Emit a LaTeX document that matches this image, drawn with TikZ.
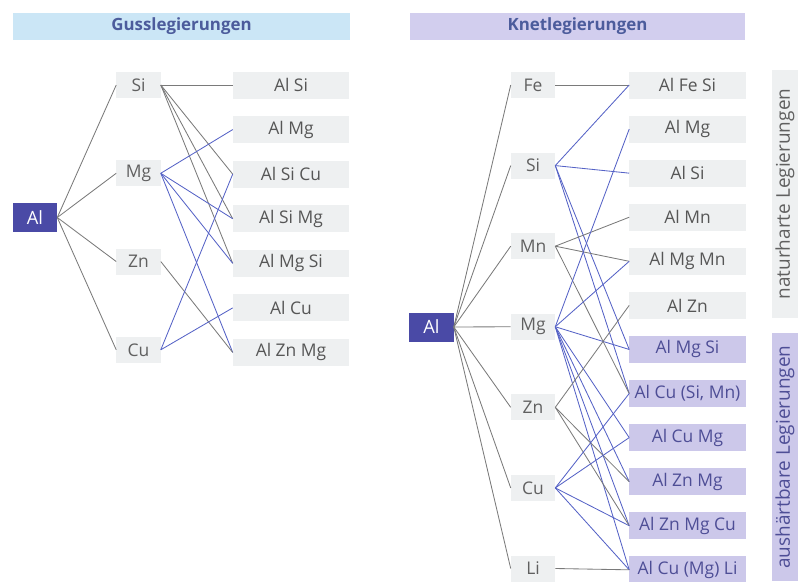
\documentclass[tikz,border=0pt]{standalone}
\usepackage{fontspec}
\setmainfont{Open Sans}
\usetikzlibrary{positioning}
\definecolor{alBlue}{HTML}{4A4AA6}
\definecolor{boxGrey}{HTML}{EEF0F1}
\definecolor{boxLila}{HTML}{CCC8EA}
\definecolor{headBlue}{HTML}{CBE6F6}
\definecolor{headLila}{HTML}{D2CEEE}
\definecolor{lineBlue}{HTML}{5562C6}
\definecolor{lineGrey}{HTML}{7A7A7A}
\definecolor{textGrey}{HTML}{606060}
\definecolor{textLila}{HTML}{4E4E96}
\definecolor{headText}{HTML}{4C5C9C}

\begin{document}
\begin{tikzpicture}[
    x=0.025cm, y=-0.025cm,
    node distance=0.4125cm,
    head/.style={rectangle, fill=headBlue, minimum width=8.425cm, minimum height=0.675cm,
                 font=\bfseries\fontsize{12}{14}\selectfont, text=headText, inner sep=0pt},
    almain/.style={rectangle, fill=alBlue, text=white, minimum width=1.1cm,
                 minimum height=0.725cm, inner sep=0pt, font=\fontsize{13}{15}\selectfont},
    elem/.style={rectangle, fill=boxGrey, text=textGrey, minimum width=1.1cm,
                 minimum height=0.65cm, inner sep=0pt, font=\fontsize{12.4}{14}\selectfont},
    alloy/.style={rectangle, fill=boxGrey, text=textGrey!90!black, minimum width=2.9cm,
                 minimum height=0.675cm, inner sep=0pt, font=\fontsize{12.4}{14}\selectfont},
    hard/.style={alloy, fill=boxLila, text=textLila},
    side/.style={rectangle, rotate=90, minimum width=6.2cm, minimum height=0.65cm,
                 inner sep=0pt, fill=boxGrey, text=textGrey, font=\fontsize{13.5}{15}\selectfont},
    greyline/.style={draw=lineGrey, line width=0.6pt},
    blueline/.style={draw=lineBlue, line width=0.6pt},
  ]
    \useasboundingbox (0,0) rectangle (798,581);

    % Gusslegierungen
    \node[head] (ghead) at (181.5,26.5) {Gusslegierungen};
    \node[almain] (gAl) at (35,217.5) {Al};

    \node[elem] (gSi) at (138.5,85) {Si};
    \node[elem, below=1.542cm of gSi] (gMg) {Mg};
    \node[elem, below=1.542cm of gMg] (gZn) {Zn};
    \node[elem, below=1.542cm of gZn] (gCu) {Cu};

    \node[alloy] (ga1) at (291,85) {Al Si};
    \node[alloy, below=0.425cm of ga1] (ga2) {Al Mg};
    \node[alloy, below=0.425cm of ga2] (ga3) {Al Si Cu};
    \node[alloy, below=0.425cm of ga3] (ga4) {Al Si Mg};
    \node[alloy, below=0.425cm of ga4] (ga5) {Al Mg Si};
    \node[alloy, below=0.425cm of ga5] (ga6) {Al Cu};
    \node[alloy, below=0.425cm of ga6] (ga7) {Al Zn Mg};

    \draw[greyline] (gAl.east) -- (gSi.west);
    \draw[greyline] (gAl.east) -- (gMg.west);
    \draw[greyline] (gAl.east) -- (gZn.west);
    \draw[greyline] (gAl.east) -- (gCu.west);

    \draw[greyline] (gSi.east) -- (ga1.west);
    \draw[greyline] (gSi.east) -- (ga3.west);
    \draw[greyline] (gSi.east) -- (ga4.west);
    \draw[greyline] (gSi.east) -- (ga5.west);
    \draw[blueline] (gMg.east) -- (ga2.west);
    \draw[blueline] (gMg.east) -- (ga4.west);
    \draw[blueline] (gMg.east) -- (ga5.west);
    \draw[blueline] (gMg.east) -- (ga7.west);
    \draw[greyline] (gZn.east) -- (ga7.west);
    \draw[blueline] (gCu.east) -- (ga3.west);
    \draw[blueline] (gCu.east) -- (ga6.west);

    % Knetlegierungen
    \node[head, fill=headLila, minimum width=8.375cm] (khead) at (577.5,26.5) {Knetlegierungen};
    \node[almain] (kAl) at (431.5,327) {Al};

    \node[elem] (kFe) at (533,85) {Fe};
    \node[elem, below=1.35cm of kFe] (kSi) {Si};
    \node[elem, below=1.35cm of kSi] (kMn) {Mn};
    \node[elem, below=1.35cm of kMn] (kMg) {Mg};
    \node[elem, below=1.35cm of kMg] (kZn) {Zn};
    \node[elem, below=1.35cm of kZn] (kCu) {Cu};
    \node[elem, below=1.35cm of kCu] (kLi) {Li};

    \node[alloy] (ka1) at (687.5,85) {Al Fe Si};
    \node[alloy, below=of ka1] (ka2) {Al Mg};
    \node[alloy, below=of ka2] (ka3) {Al Si};
    \node[alloy, below=of ka3] (ka4) {Al Mn};
    \node[alloy, below=of ka4] (ka5) {Al Mg Mn};
    \node[alloy, below=of ka5] (ka6) {Al Zn};
    \node[hard, below=of ka6] (ka7) {Al Mg Si};
    \node[hard, below=of ka7] (ka8) {Al Cu (Si, Mn)};
    \node[hard, below=of ka8] (ka9) {Al Cu Mg};
    \node[hard, below=of ka9] (ka10) {Al Zn Mg};
    \node[hard, below=of ka10] (ka11) {Al Zn Mg Cu};
    \node[hard, below=of ka11] (ka12) {Al Cu (Mg) Li};

    \node[side] (natur) at (785,194) {naturharte Legierungen};
    \node[side, fill=boxLila, text=textLila] (aushaert) at (785,457) {aushärtbare Legierungen};

    \draw[greyline] (kAl.east) -- (kFe.west);
    \draw[greyline] (kAl.east) -- (kSi.west);
    \draw[greyline] (kAl.east) -- (kMn.west);
    \draw[greyline] (kAl.east) -- (kMg.west);
    \draw[greyline] (kAl.east) -- (kZn.west);
    \draw[greyline] (kAl.east) -- (kCu.west);
    \draw[greyline] (kAl.east) -- (kLi.west);

    \draw[greyline] (kFe.east) -- (ka1.west);
    \draw[blueline] (kSi.east) -- (ka1.west);
    \draw[blueline] (kSi.east) -- (ka3.west);
    \draw[blueline] (kSi.east) -- (ka7.west);
    \draw[blueline] (kSi.east) -- (ka8.west);
    \draw[greyline] (kMn.east) -- (ka4.west);
    \draw[greyline] (kMn.east) -- (ka5.west);
    \draw[greyline] (kMn.east) -- (ka8.west);
    \draw[blueline] (kMg.east) -- (ka2.west);
    \draw[blueline] (kMg.east) -- (ka5.west);
    \draw[blueline] (kMg.east) -- (ka7.west);
    \draw[blueline] (kMg.east) -- (ka9.west);
    \draw[blueline] (kMg.east) -- (ka10.west);
    \draw[blueline] (kMg.east) -- (ka11.west);
    \draw[blueline] (kMg.east) -- (ka12.west);
    \draw[greyline] (kZn.east) -- (ka6.west);
    \draw[greyline] (kZn.east) -- (ka10.west);
    \draw[greyline] (kZn.east) -- (ka11.west);
    \draw[blueline] (kCu.east) -- (ka8.west);
    \draw[blueline] (kCu.east) -- (ka9.west);
    \draw[blueline] (kCu.east) -- (ka11.west);
    \draw[blueline] (kCu.east) -- (ka12.west);
    \draw[greyline] (kLi.east) -- (ka12.west);
  \end{tikzpicture}
\end{document}
